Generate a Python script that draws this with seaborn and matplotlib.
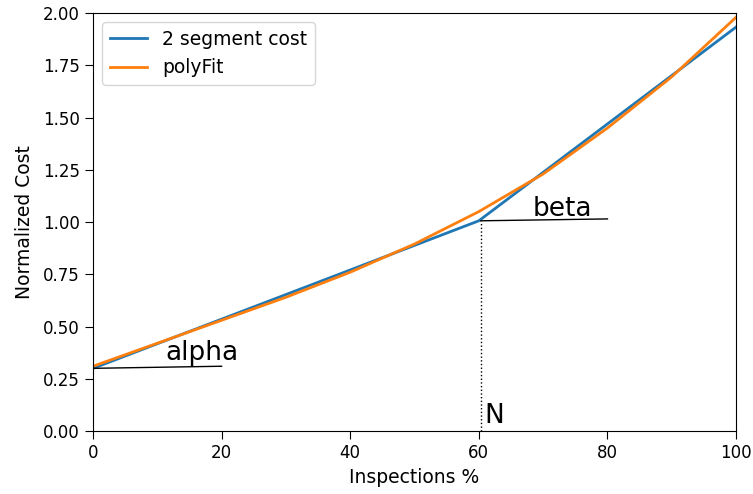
import matplotlib
matplotlib.use("Agg")
import matplotlib.pyplot as plt
import seaborn as sns
import pandas as pd

seg_x = [0, 60, 100]
seg_y = [0.30, 1.006, 1.933]
poly_x = [0, 10, 20, 30, 40, 50, 60, 70, 80, 90, 100]
poly_y = [0.31, 0.42, 0.53, 0.64, 0.76, 0.895, 1.05, 1.23, 1.45, 1.695, 1.98]

alpha_line_x = [0, 20]
alpha_line_y = [0.30, 0.31]
beta_line_x = [60.3, 80]
beta_line_y = [1.006, 1.015]
n_x = [60.3, 60.3]
n_y = [0.0, 1.006]

df = pd.concat([
    pd.DataFrame({"x": seg_x, "y": seg_y, "series": "2 segment cost"}),
    pd.DataFrame({"x": poly_x, "y": poly_y, "series": "polyFit"}),
])

fig = plt.figure(figsize=(7.53, 4.94), dpi=100)
ax = fig.add_axes([0.1235, 0.1275, 0.854, 0.846])
sns.lineplot(data=df, x="x", y="y", hue="series", palette=["#1f77b4", "#ff7f0e"],
             linewidth=2, ax=ax, sort=False)
ax.plot(alpha_line_x, alpha_line_y, color="black", linewidth=1)
ax.plot(beta_line_x, beta_line_y, color="black", linewidth=1)
ax.plot(n_x, n_y, color="black", linewidth=1, linestyle=":")
ax.text(11.2, 0.34, "alpha", fontsize=19)
ax.text(68.4, 1.03, "beta", fontsize=19)
ax.text(60.8, 0.04, "N", fontsize=19)

ax.set_xlim(0, 100)
ax.set_ylim(0, 2)
yt = [0, 0.25, 0.5, 0.75, 1.0, 1.25, 1.5, 1.75, 2.0]
ax.set_yticks(yt)
ax.set_yticklabels([f"{v:.2f}" for v in yt])
ax.tick_params(labelsize=12, length=6)
ax.set_xlabel("Inspections %", fontsize=13.5, labelpad=4)
ax.set_ylabel("Normalized Cost", fontsize=13.5, labelpad=6)
ax.legend(loc="upper left", fontsize=13.5, title=None)
fig.savefig("out.png", dpi=100)
